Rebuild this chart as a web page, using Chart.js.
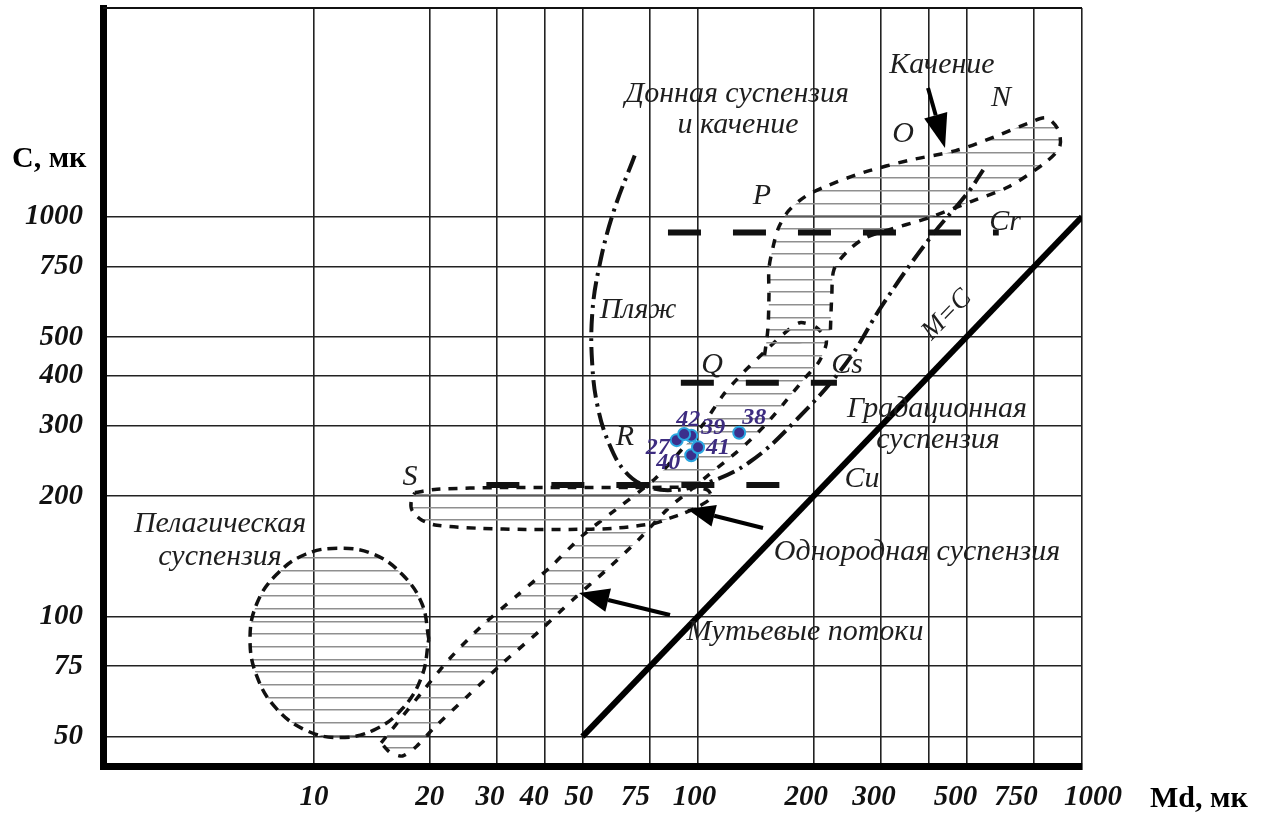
<!DOCTYPE html>
<html lang="ru">
<head>
<meta charset="utf-8">
<title>C-M диаграмма</title>
<script src="https://cdn.jsdelivr.net/npm/chart.js@4.4.1/dist/chart.umd.min.js"></script>
<style>
  html, body { margin: 0; padding: 0; background: #fff; }
  #wrap { width: 1267px; height: 814px; }
</style>
</head>
<body>
<div id="wrap"><canvas id="cm-chart" width="1267" height="814"></canvas></div>
<script>
// Axis ticks (both axes logarithmic)
const xTicks = [10, 20, 30, 40, 50, 75, 100, 200, 300, 400, 500, 750, 1000];
const xTickLabels = ['10', '20', '30', '40', '50', '75', '100', '200', '300', '', '500', '750', '1000'];
const yTicks = [50, 75, 100, 200, 300, 400, 500, 750, 1000];
const yTickLabels = ['50', '75', '100', '200', '300', '400', '500', '750', '1000'];

// Samples: Md, C
const sampleNames = ['27', '38', '39', '40', '41', '42'];
const sampleMd = [88, 128, 96, 96, 100, 92];
const sampleC = [276, 288, 283, 253, 265, 286];

// M = C line
const mcLine = [[50, 50], [1000, 1000]];

// Horizontal limits Cr, Cs, Cu
const crLine = [[83.5, 913], [607, 913]];
const csLine = [[90.2, 384], [230, 384]];
const cuLine = [[28.1, 213], [169, 213]];

// Pelagic suspension (circle)
const pelagicOutline = [
  [19.9, 87.7], [19.1, 107.5], [17.0, 127], [14.3, 143], [11.6, 148], [9.5, 143],
  [7.97, 127], [7.09, 107.5], [6.81, 87.7], [7.09, 70.9], [7.97, 58.8], [9.5, 51.9],
  [11.6, 49.7], [14.3, 51.9], [17.0, 58.8], [19.1, 70.9], [19.9, 87.7]
];

// Turbidity currents + graded suspension band (R-Q)
const bandOutline = [
  [14.95, 48.2], [16.5, 54.2], [19.1, 64.6], [22.4, 77.8], [27.2, 94.2], [33.7, 112.5],
  [41.3, 133], [50.3, 160], [62.9, 189], [77.3, 221], [90.2, 260], [103, 302],
  [116, 357], [130, 404], [150, 462], [167, 509], [184, 543], [203, 529], [216, 489],
  [207, 435], [190, 395], [169, 345], [150, 302], [134, 271], [119, 246], [106, 225],
  [95, 206], [83.5, 186], [69.8, 155], [57.4, 130], [47.2, 110], [38.7, 92],
  [31, 76.4], [25.1, 63.1], [20.5, 52.5], [18.5, 47.3], [17, 44.7], [15.8, 45.6], [14.95, 48.2]
];

// Rolling / bottom suspension (N-O-P)
const nopOutline = [
  [149, 450], [152, 523], [153, 635], [153, 742], [157, 844], [162, 938], [172, 1034],
  [190, 1123], [213, 1187], [269, 1290], [355, 1385], [469, 1464], [597, 1591],
  [729, 1719], [808, 1767], [866, 1654], [875, 1497], [799, 1363], [642, 1187],
  [514, 1092], [400, 995], [302, 918], [269, 880], [243, 813], [226, 738], [223, 635], [221, 509]
];

// Uniform suspension (R-S)
const rsOutline = [
  [18.3, 204], [20.9, 208], [31, 210], [46.3, 210], [68.4, 210], [95, 210], [106, 207],
  [108, 198], [100, 188], [91.6, 181], [84.4, 176], [77.3, 171], [60, 166], [46.3, 165],
  [35.6, 165], [27.2, 166], [20.9, 169], [19.1, 174], [18, 184], [17.9, 194], [18.3, 204]
];

// Beach boundary (dash-dot)
const beachCurve = [
  [68.4, 1424], [60, 1017], [55.1, 738], [53, 568], [53, 430], [54.8, 334], [58.9, 268],
  [64.9, 229], [73.1, 212], [85.7, 207], [106, 216], [136, 243], [179, 308], [243, 430],
  [302, 601], [400, 880], [506, 1154], [553, 1311]
];

// label placement tweaks: spaces after (<0) or before (>0) each x tick label
const xLabelShift = [0, 0, -2, -3, -1, -4, -1, -2, -2, 0, -3, -5, 3];

// label offsets for sample numbers (px from the point)
const sampleLabelOffsets = [[-19, 8], [15, -15], [22, -8], [-23, 8], [20, 1], [4, -14]];

const notes = [
  ['Донная суспензия', 737, 102], ['и качение', 738, 133], ['Качение', 942, 73],
  ['N', 1001, 106], ['O', 903, 142], ['P', 762, 204], ['Cr', 1005, 230],
  ['Пляж', 638, 318], ['Q', 712, 373], ['Cs', 847, 373], ['R', 625, 445],
  ['Градационная', 937, 417], ['суспензия', 938, 448], ['S', 410, 485], ['Cu', 862, 487],
  ['Пелагическая', 220, 532], ['суспензия', 220, 565],
  ['Однородная суспензия', 917, 560], ['Мутьевые потоки', 805, 640]
];

const canvas = document.getElementById('cm-chart');
const ctx = canvas.getContext('2d');

// horizontal hatching used for the fields
function makeHatch() {
  const c = document.createElement('canvas');
  c.width = 8;
  c.height = 38;
  const g = c.getContext('2d');
  g.fillStyle = '#8f8f8f';
  [0, 13, 25].forEach(y => g.fillRect(0, y, 8, 1.5));
  return ctx.createPattern(c, 'repeat');
}
const hatch = makeHatch();

const toXY = pts => pts.map(([x, y]) => ({x, y}));

function outline(points, dash, tension) {
  return {
    data: toXY(points),
    showLine: true,
    borderColor: '#111',
    borderWidth: 3.5,
    borderDash: dash,
    pointRadius: 0,
    tension: tension,
    fill: 'shape',
    backgroundColor: hatch
  };
}

function limitLine(points) {
  return {
    data: toXY(points),
    showLine: true,
    borderColor: '#111',
    borderWidth: 6,
    borderDash: [33, 32],
    borderCapStyle: 'butt',
    pointRadius: 0,
    fill: false
  };
}

function arrow(c, x1, y1, x2, y2, headLen, headW) {
  const a = Math.atan2(y2 - y1, x2 - x1);
  const bx = x2 - headLen * Math.cos(a);
  const by = y2 - headLen * Math.sin(a);
  c.lineWidth = 4;
  c.beginPath();
  c.moveTo(x1, y1);
  c.lineTo(bx, by);
  c.stroke();
  c.beginPath();
  c.moveTo(x2, y2);
  c.lineTo(bx + headW / 2 * Math.sin(a), by - headW / 2 * Math.cos(a));
  c.lineTo(bx - headW / 2 * Math.sin(a), by + headW / 2 * Math.cos(a));
  c.closePath();
  c.fill();
}

// frame top, texts, arrows, sample numbers
const notesPlugin = {
  id: 'cmNotes',
  afterDatasetsDraw(chart) {
    const c = chart.ctx;
    const area = chart.chartArea;
    c.save();
    c.strokeStyle = '#111';
    c.lineWidth = 2;
    c.beginPath();
    c.moveTo(area.left, area.top);
    c.lineTo(area.right, area.top);
    c.stroke();

    c.fillStyle = '#1e1e1e';
    c.font = 'italic 30px "Liberation Serif"';
    c.textAlign = 'center';
    c.textBaseline = 'alphabetic';
    notes.forEach(([t, x, y]) => c.fillText(t, x, y));

    c.save();
    c.translate(952, 320);
    c.rotate(-0.8);
    c.font = 'italic 27px "Liberation Serif"';
    c.fillText('M=C', 0, 0);
    c.restore();

    c.fillStyle = '#000';
    c.strokeStyle = '#000';
    arrow(c, 928, 88, 945, 148, 34, 24);
    arrow(c, 763, 528, 687, 509, 28, 22);
    arrow(c, 670, 615, 579, 593, 30, 24);

    c.font = 'bold 30px "Liberation Serif"';
    c.textAlign = 'left';
    c.fillText('C, мк', 12, 167);
    c.fillText('Md, мк', 1150, 807);

    const meta = chart.getDatasetMeta(0);
    c.font = 'bold italic 24px "Liberation Serif"';
    c.fillStyle = '#3d2c80';
    c.textAlign = 'center';
    c.textBaseline = 'middle';
    meta.data.forEach((pt, i) => {
      const [dx, dy] = sampleLabelOffsets[i];
      c.fillText(sampleNames[i], pt.x + dx, pt.y + dy);
    });
    c.restore();
  }
};

const tickFont = {family: 'Liberation Serif', size: 29, weight: 'bold', style: 'italic'};

function shiftLabel(text, n) {
  if (!text) return text;
  return n < 0 ? text + ' '.repeat(-n) : ' '.repeat(n) + text;
}

new Chart(ctx, {
  type: 'scatter',
  data: {
    datasets: [
      {
        data: sampleMd.map((x, i) => ({x, y: sampleC[i]})),
        pointRadius: 6,
        pointBackgroundColor: '#3b2f8c',
        pointBorderColor: '#2aa6e0',
        pointBorderWidth: 2
      },
      {
        data: toXY(mcLine),
        showLine: true,
        borderColor: '#000',
        borderWidth: 6,
        pointRadius: 0
      },
      {
        data: toXY(beachCurve),
        showLine: true,
        borderColor: '#111',
        borderWidth: 4,
        borderDash: [18, 6, 3, 6],
        pointRadius: 0,
        tension: 0.4
      },
      limitLine(crLine),
      limitLine(csLine),
      limitLine(cuLine),
      outline(nopOutline, [9, 9], 0.3),
      outline(rsOutline, [9, 8], 0.3),
      outline(bandOutline, [8, 10], 0.25),
      outline(pelagicOutline, [10, 6], 0.4)
    ]
  },
  options: {
    responsive: false,
    animation: false,
    layout: {padding: {top: 7, right: 185, left: 0, bottom: 0}},
    plugins: {legend: {display: false}, tooltip: {enabled: false}},
    scales: {
      x: {
        type: 'logarithmic',
        min: 2.82,
        max: 1000,
        afterBuildTicks: s => { s.ticks = xTicks.map(v => ({value: v})); },
        afterFit: s => { s.height = 48; s.paddingLeft = 0; s.paddingRight = 0; },
        ticks: {
          autoSkip: false,
          maxRotation: 0,
          padding: 14,
          color: '#111',
          font: tickFont,
          callback: (v, i) => shiftLabel(xTickLabels[i], xLabelShift[i])
        },
        grid: {color: '#222', lineWidth: 1.6, drawTicks: false},
        border: {color: '#000', width: 7}
      },
      y: {
        type: 'logarithmic',
        min: 42.2,
        max: 3331,
        afterBuildTicks: s => { s.ticks = yTicks.map(v => ({value: v})); },
        afterFit: s => { s.width = 103; s.paddingTop = 0; s.paddingBottom = 0; },
        ticks: {
          autoSkip: false,
          padding: 20,
          color: '#111',
          font: tickFont,
          callback: (v, i) => yTickLabels[i]
        },
        grid: {color: '#222', lineWidth: 1.6, drawTicks: false},
        border: {color: '#000', width: 7}
      }
    }
  },
  plugins: [notesPlugin]
});
</script>
</body>
</html>
